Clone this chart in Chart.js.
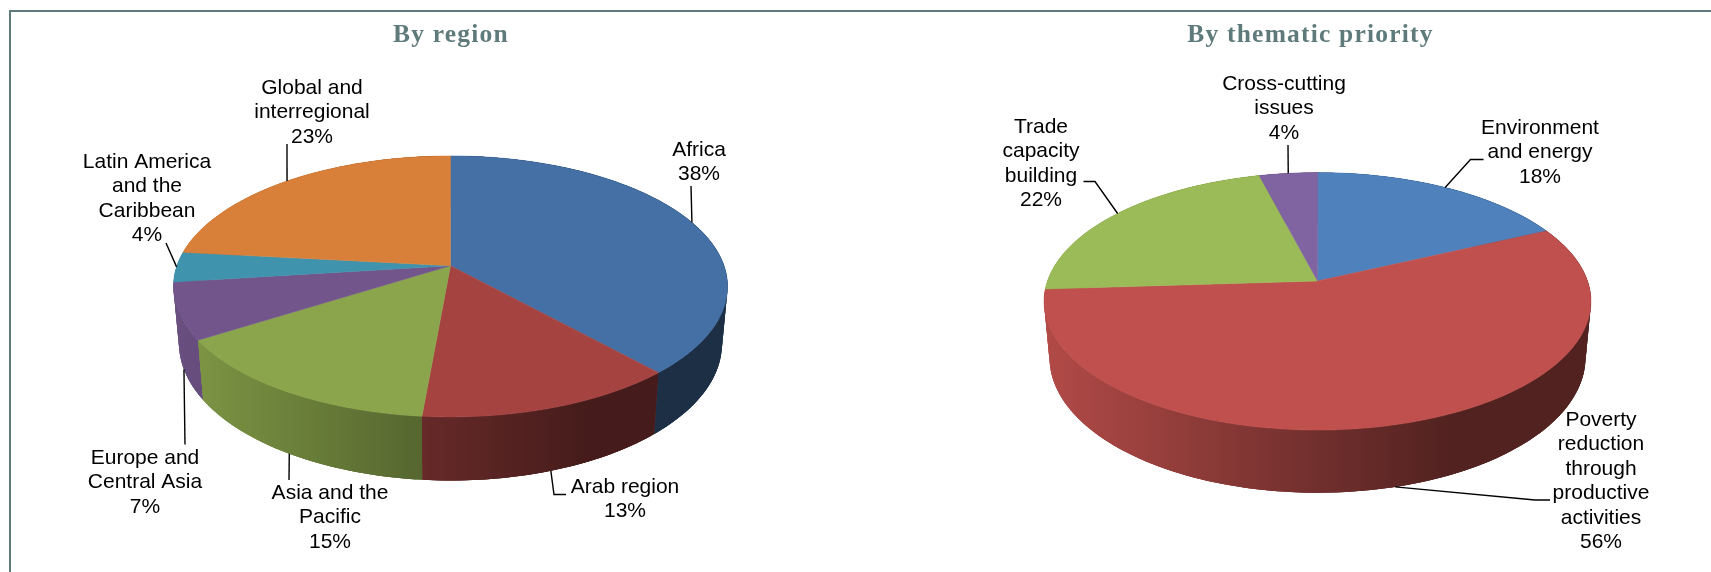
<!DOCTYPE html>
<html>
<head>
<meta charset="utf-8">
<title>By region and by thematic priority</title>
<script src="https://cdn.jsdelivr.net/npm/chart.js@4"></script>
<style>
  html, body { margin: 0; height: 100%; background: #fff; overflow: hidden; }
  #frame { position: absolute; left: 9px; top: 10px; right: 0; bottom: 0; border-left: 2px solid #5f7a7b; border-top: 2px solid #5f7a7b; }
  canvas { position: absolute; top: 0; }
  #regionChart { left: 0; }
  #themeChart { left: 910px; }
</style>
</head>
<body>
<div id="frame"></div>
<canvas id="regionChart" width="902" height="572"></canvas>
<canvas id="themeChart" width="801" height="572"></canvas>
<script>
const regionCategories = ["Africa", "Arab region", "Asia and the\nPacific", "Europe and\nCentral Asia", "Latin America\nand the\nCaribbean", "Global and\ninterregional"];
// the labels show these rounded
const regionValues = [38.3, 13.1, 14.6, 7, 3.7, 23.3];
const regionColors = ["#4570a5", "#a54341", "#8aa54b", "#72568b", "#3f93ad", "#d8803a"];

const themeCategories = ["Environment\nand energy", "Poverty\nreduction\nthrough\nproductive\nactivities", "Trade\ncapacity\nbuilding", "Cross-cutting\nissues"];
const themeValues = [18, 56, 22, 4];
const themeColors = ["#4f81bd", "#c0504d", "#9bbb59", "#8064a2"];

// where the text sits on the page, same order as the categories
const regionLabelPos = [
  { x: 699, y: 150, via: [[691, 186]], floor: false },
  { x: 625, y: 487, via: [[566, 494.5], [554, 494.5]], floor: true },
  { x: 330, y: 493, via: [[289, 480]], floor: true },
  { x: 145, y: 458, via: [[185, 444.5]], floor: true },
  { x: 147, y: 162, via: [[166, 243]], floor: false },
  { x: 312, y: 88, via: [[287, 144]], floor: false }
];
const themeLabelPos = [
  { x: 1540, y: 128, via: [[1483.5, 159.5], [1470.5, 159.5]], floor: false },
  { x: 1601, y: 420, via: [[1550, 500], [1535, 500]], floor: true },
  { x: 1041, y: 127, via: [[1083.5, 181.5], [1095, 181.5]], floor: false },
  { x: 1284, y: 84, via: [[1288, 145]], floor: false }
];

// rim of a pie seen in perspective: k is the tilt, the floor ring is the bottom of the wall
function project(g, angle, floor) {
  const u = Math.cos(angle), v = Math.sin(angle);
  const d = 1 - g.k * v;
  let x = g.a * u / d, y = g.b * v / d;
  if (floor) { x *= 0.98; y = y * 1.05 + g.drop; }
  return [g.cx + x, g.apexY + y];
}

function shade(hex, f) {
  const n = parseInt(hex.slice(1), 16);
  const c = [n >> 16, (n >> 8) & 255, n & 255].map(p => Math.round(p * f));
  return "rgb(" + c.join(",") + ")";
}

function rimPath(ctx, g, start, end, floor) {
  const steps = Math.max(4, Math.ceil(Math.abs(end - start) / 0.02));
  for (let i = 0; i <= steps; i++) {
    const p = project(g, start + (end - start) * i / steps, floor);
    ctx.lineTo(p[0], p[1]);
  }
}

const pie3d = {
  id: "pie3d",
  beforeDraw(chart) { chart.ctx.letterSpacing = "1.2px"; },
  beforeDatasetsDraw(chart) { chart.ctx.letterSpacing = "0px"; },
  // the arcs keep the angles the pie controller worked out, only the painting is replaced
  beforeDatasetDraw(chart, args, opts) {
    const ctx = chart.ctx, g = opts.geom;
    const arcs = chart.getDatasetMeta(args.index).data;
    const colors = chart.data.datasets[args.index].backgroundColor;
    ctx.save();
    ctx.translate(-opts.left, 0);

    // wall: a solid band per slice, then overlapping strips, back to front,
    // so the outline joins rim and floor without seams
    const strips = [];
    arcs.forEach((arc, i) => {
      const lg = ctx.createLinearGradient(g.cx - g.a, 0, g.cx + g.a, 0);
      lg.addColorStop(0, shade(colors[i], 0.92));
      lg.addColorStop(0.75, shade(colors[i], 0.42));
      lg.addColorStop(1, shade(colors[i], 0.42));
      ctx.beginPath();
      rimPath(ctx, g, arc.startAngle, arc.endAngle, false);
      rimPath(ctx, g, arc.endAngle, arc.startAngle, true);
      ctx.closePath();
      ctx.fillStyle = lg;
      ctx.fill();
      const step = (arc.endAngle - arc.startAngle) / Math.ceil((arc.endAngle - arc.startAngle) / 0.02);
      for (let a = arc.startAngle; a < arc.endAngle - step / 2; a += step) {
        strips.push({ from: a, to: Math.min(arc.endAngle, a + step * 2), paint: lg });
      }
    });
    strips.sort((p, q) => Math.sin((p.from + p.to) / 2) - Math.sin((q.from + q.to) / 2));
    strips.forEach(st => {
      const pts = [project(g, st.from, false), project(g, st.to, false), project(g, st.to, true), project(g, st.from, true)];
      ctx.beginPath();
      pts.forEach((p, j) => j ? ctx.lineTo(p[0], p[1]) : ctx.moveTo(p[0], p[1]));
      ctx.closePath();
      ctx.fillStyle = st.paint;
      ctx.fill();
    });

    arcs.forEach((arc, i) => {
      ctx.beginPath();
      ctx.moveTo(g.cx, g.apexY);
      rimPath(ctx, g, arc.startAngle, arc.endAngle, false);
      ctx.closePath();
      ctx.fillStyle = colors[i];
      ctx.strokeStyle = colors[i];
      ctx.lineWidth = 0.5;
      ctx.fill();
      ctx.stroke();
    });

    ctx.strokeStyle = "#000";
    ctx.lineWidth = 1.4;
    ctx.fillStyle = "#000";
    ctx.font = "21px 'Liberation Sans'";
    ctx.textAlign = "center";
    ctx.textBaseline = "middle";
    arcs.forEach((arc, i) => {
      const pos = opts.labels[i];
      const tip = project(g, (arc.startAngle + arc.endAngle) / 2, pos.floor);
      ctx.beginPath();
      pos.via.forEach((p, j) => j ? ctx.lineTo(p[0], p[1]) : ctx.moveTo(p[0], p[1]));
      ctx.lineTo(tip[0], tip[1]);
      ctx.stroke();
      const lines = chart.data.labels[i].split("\n");
      lines.push(Math.round(chart.data.datasets[args.index].data[i]) + "%");
      lines.forEach((t, j) => ctx.fillText(t, pos.x, pos.y + j * 24.5));
    });
    ctx.restore();
    return false;
  }
};

function makePie(id, title, labels, values, colors, left, geom, labelPos) {
  return new Chart(document.getElementById(id), {
    type: "pie",
    data: { labels: labels, datasets: [{ data: values, backgroundColor: colors }] },
    plugins: [pie3d],
    options: {
      responsive: false,
      animation: false,
      plugins: {
        legend: { display: false },
        tooltip: { enabled: false },
        title: {
          display: true,
          text: title,
          color: "#5f7a7b",
          font: { family: "'Liberation Serif'", size: 25.5, weight: "bold" },
          padding: { top: 20, bottom: 10 }
        },
        pie3d: { left: left, geom: geom, labels: labelPos }
      }
    }
  });
}

makePie("regionChart", "By region", regionCategories, regionValues, regionColors, 0,
  { cx: 450.5, apexY: 265.7, a: 273.5, b: 127.2, k: 0.159, drop: 56 }, regionLabelPos);
makePie("themeChart", "By thematic priority", themeCategories, themeValues, themeColors, 910,
  { cx: 1317.5, apexY: 281, a: 270, b: 125.5, k: 0.158, drop: 55.2 }, themeLabelPos);
</script>
</body>
</html>
